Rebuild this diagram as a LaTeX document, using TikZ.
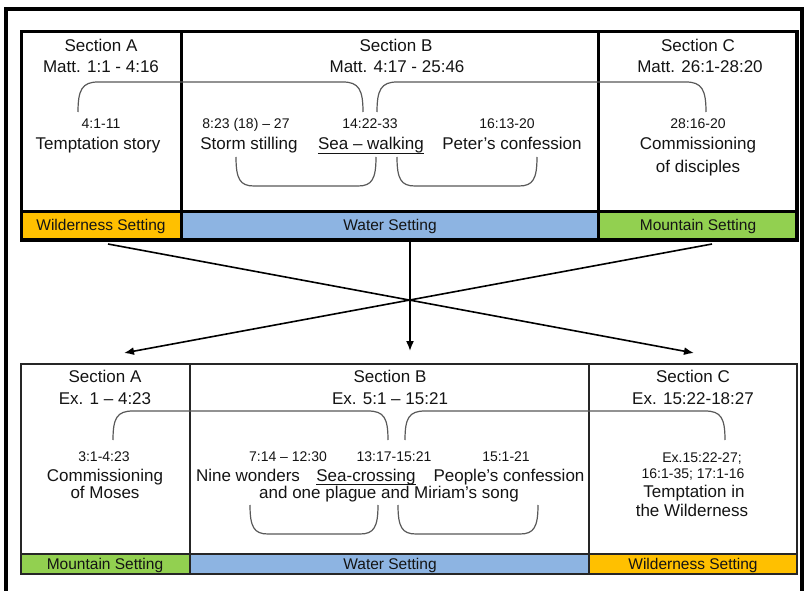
\documentclass[tikz,border=0pt]{standalone}
\usepackage{fontspec}
\setmainfont{Liberation Sans}
\usetikzlibrary{arrows.meta}
\definecolor{wild}{HTML}{FFC000}
\definecolor{water}{HTML}{8DB4E2}
\definecolor{mount}{HTML}{92D050}
\definecolor{ink}{HTML}{141414}
\begin{document}
\begin{tikzpicture}[x=1pt,y=-1pt,
  thickln/.style={line width=3.5pt, draw=black},
  thinln/.style={line width=1.3pt, draw=black!85},
  brk/.style={line width=1.2pt, draw=black!65},
  big/.style={font=\fontsize{17}{20}\selectfont, text=ink, inner sep=0pt, anchor=base},
  small/.style={font=\fontsize{14}{16}\selectfont, text=ink, inner sep=0pt, anchor=base},
  sett/.style={font=\fontsize{15.5}{18}\selectfont, text=ink, inner sep=0pt, anchor=base},
  arr/.style={line width=1.6pt, draw=black, -{Latex[length=10pt,width=8pt]}}
]
\useasboundingbox (0,0) rectangle (809,591);
\clip (0,0) rectangle (809,591);
\fill[white] (0,0) rectangle (809,591);

% outer frame
\draw[line width=4pt] (6,620) -- (6,9) -- (802,9) -- (802,620);

% ---------- top table ----------
\fill[wild]  (21.5,211.5) rectangle (181.5,240);
\fill[water] (181.5,211.5) rectangle (598.5,240);
\fill[mount] (598.5,211.5) rectangle (797,240);
\draw[thickln] (21.5,31.5) rectangle (797,240);
\draw[thickln] (181.5,31.5) -- (181.5,240);
\draw[thickln] (598.5,31.5) -- (598.5,240);
\draw[thickln] (21.5,211.5) -- (797,211.5);

% brackets top
\draw[brk] (78,112) .. controls (78,90) and (82,82) .. (98,82) -- (343,82) .. controls (359,82) and (363,90) .. (363,112);
\draw[brk] (377,112) .. controls (377,90) and (381,82) .. (397,82) -- (686,82) .. controls (702,82) and (706,90) .. (706,112);
\draw[brk] (236,157) .. controls (236,179) and (240,186) .. (254,186) -- (358,186) .. controls (372,186) and (376,179) .. (376,157);
\draw[brk] (397,157) .. controls (397,179) and (401,186) .. (415,186) -- (519,186) .. controls (533,186) and (537,179) .. (537,157);

\node[big] (tA1) at (101,52) {Section A};
\node[big] (tA2) at (101,73) {Matt. 1:1 - 4:16};
\node[small] (tA3) at (101,129) {4:1-11};
\node[big] (tA4) at (98,150) {Temptation story};
\node[big] (tB1) at (396,52) {Section B};
\node[big] (tB2) at (397,73) {Matt. 4:17 - 25:46};
\node[small] (tB3) at (246,129) {8:23 (18) – 27};
\node[big] (tB4) at (249,150) {Storm stilling};
\node[small] (tB5) at (370,129) {14:22-33};
\node[big] (tB6) at (371,150) {Sea – walking};
\draw[line width=0.9pt, draw=ink] ([yshift=-3pt]tB6.base west) -- ([yshift=-3pt]tB6.base east);
\node[small] (tB7) at (507,129) {16:13-20};
\node[big] (tB8) at (512,150) {Peter’s confession};
\node[big] (tC1) at (698,52) {Section C};
\node[big] (tC2) at (700,73) {Matt. 26:1-28:20};
\node[small] (tC3) at (698,129) {28:16-20};
\node[big] (tC4) at (698,150) {Commissioning};
\node[big] (tC5) at (698,172) {of disciples};

\node[sett] (sA) at (101,230) {Wilderness Setting};
\node[sett] (sB) at (390,230) {Water Setting};
\node[sett] (sC) at (698,230) {Mountain Setting};

% ---------- arrows ----------
\coordinate (a1) at (108,244);
\coordinate (a2) at (694,353);
\coordinate (b1) at (712,244);
\coordinate (b2) at (124,353);
\coordinate (c1) at (410,242);
\coordinate (c2) at (410,351);
\draw[arr] (a1) -- (a2);
\draw[arr] (b1) -- (b2);
\draw[arr] (c1) -- (c2);

% ---------- lower table ----------
\fill[mount] (21,554) rectangle (190,574);
\fill[water] (190,554) rectangle (589,574);
\fill[wild]  (589,554) rectangle (797,574);
\draw[thinln] (21,364) rectangle (797,574);
\draw[thinln] (190,364) -- (190,574);
\draw[thinln] (589,364) -- (589,574);
\draw[thinln] (21,554) -- (797,554);

\draw[brk] (113,440) .. controls (113,418) and (117,411) .. (133,411) -- (368,411) .. controls (384,411) and (388,418) .. (388,440);
\draw[brk] (405,440) .. controls (405,418) and (409,411) .. (425,411) -- (705,411) .. controls (721,411) and (725,418) .. (725,440);
\draw[brk] (250,505) .. controls (250,527) and (254,534) .. (268,534) -- (360,534) .. controls (374,534) and (378,527) .. (378,505);
\draw[brk] (398,505) .. controls (398,527) and (402,534) .. (416,534) -- (520,534) .. controls (534,534) and (538,527) .. (538,505);

\node[big] (lA1) at (105,382) {Section A};
\node[big] (lA2) at (105,404) {Ex. 1 – 4:23};
\node[small] (lA3) at (104,461) {3:1-4:23};
\node[big] (lA4) at (105,481) {Commissioning};
\node[big] (lA5) at (105,498) {of Moses};
\node[big] (lB1) at (390,382) {Section B};
\node[big] (lB2) at (390,404) {Ex. 5:1 – 15:21};
\node[small] (lB3) at (288,461) {7:14 – 12:30};
\node[big] (lB4) at (248,481) {Nine wonders};
\node[small] (lB5) at (394,461) {13:17-15:21};
\node[big] (lB6) at (366,481) {Sea-crossing};
\draw[line width=0.9pt, draw=ink] ([yshift=-3pt]lB6.base west) -- ([yshift=-3pt]lB6.base east);
\node[small] (lB7) at (506,461) {15:1-21};
\node[big] (lB8) at (509,481) {People’s confession};
\node[big] (lB9) at (389,498) {and one plague and Miriam’s song};
\node[big] (lC1) at (693,382) {Section C};
\node[big] (lC2) at (693,404) {Ex. 15:22-18:27};
\node[small] (lC3) at (702,462) {Ex.15:22-27;};
\node[small] (lC4) at (693,478) {16:1-35; 17:1-16};
\node[big] (lC5) at (694,497) {Temptation in};
\node[big] (lC6) at (692,516) {the Wilderness};

\node[sett] (mA) at (105,569.5) {Mountain Setting};
\node[sett] (mB) at (390,569.5) {Water Setting};
\node[sett] (mC) at (693,569.5) {Wilderness Setting};
\end{tikzpicture}
\end{document}
